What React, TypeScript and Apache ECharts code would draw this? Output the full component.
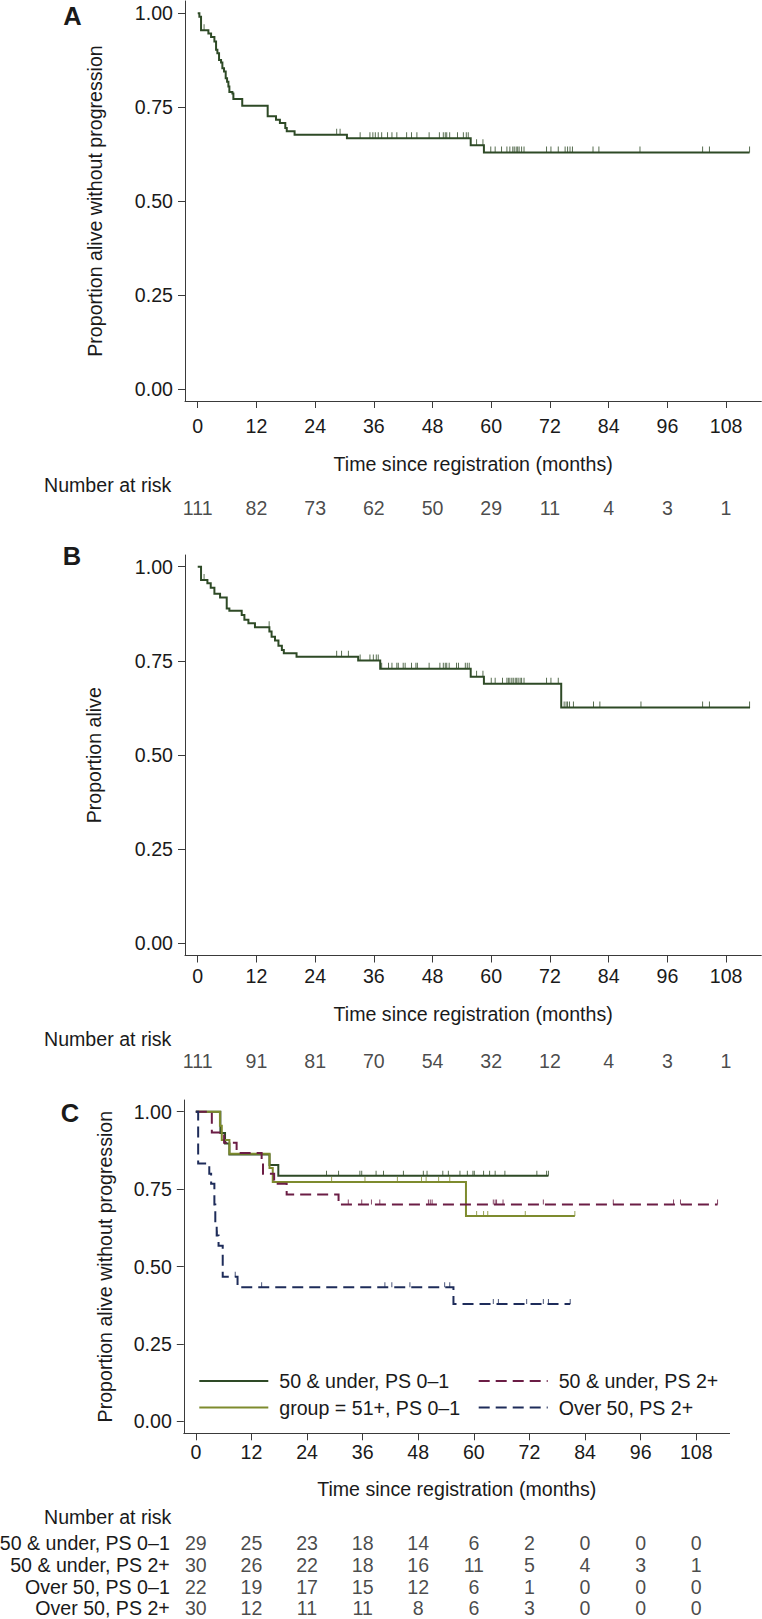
import React, { useEffect, useRef } from "react";
import * as echarts from "echarts";

// ---------- data ----------
const TIME_TICKS = [0, 12, 24, 36, 48, 60, 72, 84, 96, 108];
const Y_TICKS = [0, 0.25, 0.5, 0.75, 1];

// Panel A: progression-free survival
const A_TIMES = [0.34, 0.68, 2.18, 2.73, 3.41, 3.75, 4.02, 4.36, 4.77, 5.04, 5.38, 5.72, 6.0, 6.27, 6.47, 7.09, 7.29, 9.1, 14.3, 16.0, 16.8, 17.9, 18.2, 19.8, 30.5, 55.8, 58.5];
const A_SURV = [0.991, 0.955, 0.946, 0.937, 0.925, 0.903, 0.894, 0.876, 0.869, 0.854, 0.845, 0.827, 0.818, 0.805, 0.791, 0.787, 0.772, 0.754, 0.726, 0.717, 0.708, 0.695, 0.686, 0.677, 0.668, 0.649, 0.63];
const A_CENSOR = [1.3, 28.4, 29.1, 33.2, 35.2, 35.8, 36.3, 36.9, 37.6, 38.8, 39.7, 40.7, 42.7, 43.7, 44.8, 47.3, 49.4, 50.2, 50.6, 50.9, 51.5, 53.1, 54.3, 54.9, 55.3, 57.0, 58.3, 59.9, 60.8, 62.1, 63.2, 63.8, 64.4, 64.7, 65.1, 65.4, 65.7, 66.2, 66.7, 71.3, 72.2, 73.7, 75.1, 75.6, 76.1, 76.6, 80.8, 82.0, 90.4, 103.2, 104.6, 112.8];
const A_END = 112.8;
const A_RISK = [111, 82, 73, 62, 50, 29, 11, 4, 3, 1];

// Panel B: overall survival
const B_TIMES = [0.68, 1.98, 2.66, 3.41, 4.57, 5.93, 6.47, 8.99, 9.54, 10.36, 11.7, 14.65, 15.1, 15.8, 16.5, 17.2, 17.6, 20.2, 32.8, 37.3, 55.8, 58.5, 74.3];
const B_SURV = [0.965, 0.956, 0.944, 0.928, 0.918, 0.889, 0.883, 0.872, 0.859, 0.85, 0.839, 0.828, 0.814, 0.804, 0.79, 0.779, 0.77, 0.761, 0.751, 0.729, 0.708, 0.689, 0.626];
const B_CENSOR = [1.3, 14.6, 28.4, 29.4, 30.8, 33.2, 35.2, 35.9, 36.5, 36.9, 37.6, 39.0, 39.7, 40.7, 41.0, 42.0, 42.4, 43.7, 44.6, 44.9, 47.3, 49.5, 50.2, 50.6, 50.9, 51.4, 52.9, 53.3, 54.7, 55.1, 55.5, 57.0, 58.3, 60.0, 60.8, 62.3, 63.2, 63.5, 63.8, 64.2, 64.5, 64.9, 65.2, 65.5, 65.9, 66.2, 66.7, 71.3, 72.2, 73.7, 74.9, 75.3, 75.6, 76.0, 76.8, 80.9, 82.2, 90.6, 103.2, 104.6, 112.8];
const B_END = 112.9;
const B_RISK = [111, 91, 81, 70, 54, 32, 12, 4, 3, 1];

// Panel C: by group
const C1_NAME = "50 & under, PS 0–1";
const C1_TIMES = [5.3, 6.3, 7.24, 15.9, 17.8];
const C1_SURV = [0.931, 0.897, 0.862, 0.828, 0.793];
const C1_CENSOR = [28.2, 30.8, 35.4, 35.8, 38.9, 40.5, 44.8, 49.1, 49.9, 53.3, 54.5, 57.0, 58.6, 59.8, 60.1, 62.1, 63.4, 64.6, 66.7, 73.6, 75.7, 76.1];
const C1_END = 76.1;

const C2_NAME = "group = 51+, PS 0–1";
const C2_TIMES = [5.2, 5.6, 7.24, 15.9, 16.6, 58.3];
const C2_SURV = [0.955, 0.909, 0.864, 0.818, 0.773, 0.663];
const C2_CENSOR = [29.3, 36.5, 43.5, 48.7, 49.7, 52.4, 54.8, 60.6, 62.1, 63.0, 71.1, 81.8];
const C2_END = 81.8;

const C3_NAME = "50 & under, PS 2+";
const C3_TIMES = [3.45, 6.1, 8.8, 14.2, 14.5, 16.9, 19.6, 30.8];
const C3_SURV = [0.933, 0.9, 0.867, 0.833, 0.8, 0.767, 0.733, 0.7];
const C3_CENSOR = [32.9, 35.8, 37.9, 39.7, 50.2, 50.6, 51.0, 64.2, 64.6, 64.9, 66.3, 75.0, 90.1, 103.1, 104.6, 112.6];
const C3_END = 112.6;

const C4_NAME = "Over 50, PS 2+";
const C4_TIMES = [0.5, 2.9, 3.3, 4.0, 4.2, 4.5, 4.9, 5.8, 9.0, 55.6];
const C4_SURV = [0.833, 0.8, 0.767, 0.7, 0.633, 0.6, 0.567, 0.467, 0.433, 0.379];
const C4_CENSOR = [4.6, 8.5, 14.2, 40.8, 42.3, 46.2, 53.7, 54.8, 64.2, 65.3, 71.4, 75.0, 76.1, 80.8];
const C4_END = 80.8;

const C_RISK_ROWS = ["50 & under, PS 0–1", "50 & under, PS 2+", "Over 50, PS 0–1", "Over 50, PS 2+"];
const C_RISK_1 = [29, 25, 23, 18, 14, 6, 2, 0, 0, 0];
const C_RISK_2 = [30, 26, 22, 18, 16, 11, 5, 4, 3, 1];
const C_RISK_3 = [22, 19, 17, 15, 12, 6, 1, 0, 0, 0];
const C_RISK_4 = [30, 12, 11, 11, 8, 6, 3, 0, 0, 0];

// ---------- style ----------
const FONT = "'Liberation Sans', Arial, Helvetica, sans-serif";
const FS = 19.6;
const TXT = "#1a1a1a";
const AXC = "#3a3a3a";
const GREEN = "#2e4a26";
const OLIVE = "#7e8b2e";
const MAROON = "#6b1d45";
const NAVY = "#1e2c5a";
const X_MIN = -2.6;
const X_MAX = 115.2;

function stepData(times: number[], surv: number[], end: number) {
  const d: number[][] = [[0, 1]];
  times.forEach((t, i) => d.push([t, surv[i]]));
  d.push([end, surv[surv.length - 1]]);
  return d;
}
function survAt(times: number[], surv: number[], t: number) {
  let s = 1;
  for (let i = 0; i < times.length; i++) if (times[i] <= t) s = surv[i];
  return s;
}

function plotAxes(gi: number, top: number, bottom: number, yOne: number, yZero: number, left: number, width: number, yName: string, yNameGap: number, xLabelMargin: number, xNameGap: number) {
  const ppu = yZero - yOne;
  const min = -(bottom - yZero) / ppu;
  const max = 1 + (yOne - top) / ppu;
  const line = { lineStyle: { color: AXC, width: 1 } };
  return {
    grid: { left, top, width, height: bottom - top, outerBoundsMode: "none", containLabel: false },
    xAxis: {
      type: "value", gridIndex: gi, min: X_MIN, max: X_MAX,
      axisLine: { show: true, onZero: false, ...line },
      axisTick: { show: true, length: 7, customValues: TIME_TICKS, ...line },
      axisLabel: { customValues: TIME_TICKS, fontSize: FS, fontFamily: FONT, color: TXT, margin: xLabelMargin },
      splitLine: { show: false },
      name: "Time since registration (months)", nameLocation: "middle", nameGap: xNameGap,
      nameTextStyle: { fontSize: FS, fontFamily: FONT, color: TXT },
    },
    yAxis: {
      type: "value", gridIndex: gi, min, max,
      axisLine: { show: true, onZero: false, ...line },
      axisTick: { show: true, length: 7, customValues: Y_TICKS, ...line },
      axisLabel: { customValues: Y_TICKS, fontSize: FS, fontFamily: FONT, color: TXT, margin: 12, formatter: (v: number) => v.toFixed(2) },
      splitLine: { show: false },
      name: yName, nameLocation: "middle", nameGap: yNameGap,
      nameTextStyle: { fontSize: FS, fontFamily: FONT, color: TXT },
    },
  };
}

function riskAxes(gi: number, top: number, height: number, left: number, width: number, rows: string[] | null) {
  return {
    grid: { left, top, width, height, outerBoundsMode: "none", containLabel: false },
    xAxis: { type: "value", gridIndex: gi, min: X_MIN, max: X_MAX, show: false },
    yAxis: rows
      ? {
          type: "category", gridIndex: gi, data: rows, inverse: true,
          axisLine: { show: false }, axisTick: { show: false }, splitLine: { show: false },
          axisLabel: { interval: 0, fontSize: FS, fontFamily: FONT, color: TXT, margin: 14 },
        }
      : { type: "value", gridIndex: gi, min: 0, max: 1, show: false },
  };
}

function kmSeries(name: string, gi: number, times: number[], surv: number[], end: number, censor: number[], color: string, dashed: boolean, tickH: number) {
  return [
    {
      name, type: "line", xAxisIndex: gi, yAxisIndex: gi, step: "end", symbol: "none", silent: true,
      data: stepData(times, surv, end),
      lineStyle: { color, width: 2, type: dashed ? [11, 6] : "solid", cap: "butt", join: "miter" },
      itemStyle: { color },
      z: 3,
    },
    {
      name: name + " censored", type: "scatter", xAxisIndex: gi, yAxisIndex: gi, silent: true,
      symbol: "rect", symbolSize: [1, tickH], symbolOffset: [0, -tickH / 2],
      data: censor.map((t) => [t, survAt(times, surv, t)]),
      itemStyle: { color, opacity: 0.8 },
      z: 2,
    },
  ];
}

function riskSeries(gi: number, values: number[], row: string | null) {
  return {
    type: "scatter", xAxisIndex: gi, yAxisIndex: gi, silent: true, symbolSize: 1,
    itemStyle: { color: "transparent" },
    data: values.map((v, i) => [TIME_TICKS[i], row === null ? 0.5 : row, v]),
    label: { show: true, position: "inside", formatter: (p: any) => String(p.value[2]), fontSize: FS, fontFamily: FONT, color: TXT },
  };
}

export default function App() {
  const ref = useRef<HTMLDivElement>(null);
  useEffect(() => {
    document.body.style.margin = "0";
    if (!ref.current) return;
    const chart = echarts.init(ref.current, undefined, { renderer: "svg" });

    const LA = 185, WA = 576.3;
    const LC = 183.8, WC = 545.8;
    const pA = plotAxes(0, 1, 401, 13.3, 389.3, LA, WA, "Proportion alive without progression", 80.5, 15.2, 52.5);
    const rA = riskAxes(1, 498.3, 20, LA, WA, null);
    const pB = plotAxes(2, 555, 955.5, 566.7, 943.3, LA, WA, "Proportion alive", 81, 10.7, 48.3);
    const rB = riskAxes(3, 1051, 20, LA, WA, null);
    const pC = plotAxes(4, 1100, 1433.3, 1111.7, 1421.4, LC, WC, "Proportion alive without progression", 68.8, 8.9, 45.2);
    const rC = riskAxes(5, 1531.75, 87.6, LC, WC, C_RISK_ROWS);
    const parts = [pA, rA, pB, rB, pC, rC];

    const textEl = (text: string, x: number, y: number, bold = false, size = FS, align = "left") => ({
      type: "text", x, y, silent: true,
      style: { text, fontSize: size, fontWeight: bold ? "bold" : "normal", fontFamily: FONT, fill: TXT, align, verticalAlign: "middle" },
    });

    const legendBase = {
      orient: "vertical", padding: 0, itemWidth: 69, itemHeight: 14, itemGap: 6.5, selectedMode: false,
      itemStyle: { opacity: 0 },
      textStyle: { fontSize: FS, fontFamily: FONT, color: TXT, lineHeight: 19.5, padding: [0, 0, 0, 6] },
    };

    chart.setOption({
      animation: false,
      backgroundColor: "#ffffff",
      grid: parts.map((p) => p.grid),
      xAxis: parts.map((p) => p.xAxis),
      yAxis: parts.map((p) => p.yAxis),
      legend: [
        { ...legendBase, left: 198.3, top: 1371, data: [C1_NAME, C2_NAME] },
        { ...legendBase, left: 477.7, top: 1371, data: [C3_NAME, C4_NAME] },
      ],
      graphic: [
        textEl("A", 72.5, 16, true, 25.5, "center"),
        textEl("B", 72, 556, true, 25.5, "center"),
        textEl("C", 70, 1112.5, true, 25.5, "center"),
        textEl("Number at risk", 44, 485),
        textEl("Number at risk", 44, 1039.3),
        textEl("Number at risk", 44, 1516.7),
      ],
      series: [
        ...kmSeries("PFS", 0, A_TIMES, A_SURV, A_END, A_CENSOR, GREEN, false, 6),
        riskSeries(1, A_RISK, null),
        ...kmSeries("OS", 2, B_TIMES, B_SURV, B_END, B_CENSOR, GREEN, false, 6),
        riskSeries(3, B_RISK, null),
        ...kmSeries(C1_NAME, 4, C1_TIMES, C1_SURV, C1_END, C1_CENSOR, GREEN, false, 5),
        ...kmSeries(C2_NAME, 4, C2_TIMES, C2_SURV, C2_END, C2_CENSOR, OLIVE, false, 5),
        ...kmSeries(C3_NAME, 4, C3_TIMES, C3_SURV, C3_END, C3_CENSOR, MAROON, true, 5),
        ...kmSeries(C4_NAME, 4, C4_TIMES, C4_SURV, C4_END, C4_CENSOR, NAVY, true, 5),
        riskSeries(5, C_RISK_1, C_RISK_ROWS[0]),
        riskSeries(5, C_RISK_2, C_RISK_ROWS[1]),
        riskSeries(5, C_RISK_3, C_RISK_ROWS[2]),
        riskSeries(5, C_RISK_4, C_RISK_ROWS[3]),
      ],
    });
    return () => chart.dispose();
  }, []);
  return <div ref={ref} style={{ width: 762, height: 1619 }} />;
}
